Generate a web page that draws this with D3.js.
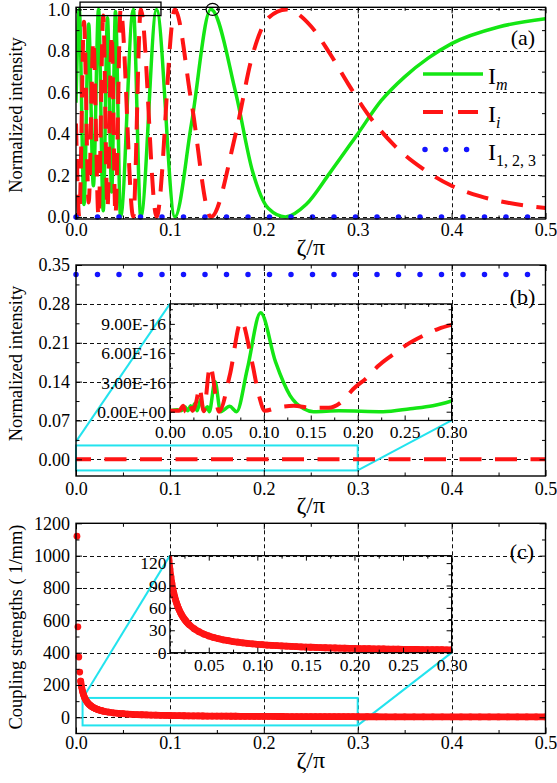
<!DOCTYPE html>
<html>
<head>
<meta charset="utf-8">
<script src="https://cdn.jsdelivr.net/npm/d3@7"></script>
<style>
  body { margin: 0; background: #fff; }
  svg { display: block; }
</style>
</head>
<body>
<svg id="fig" width="557" height="783"></svg>
<script>
// ---------------- data ----------------
const zetaTicks = [0, 0.1, 0.2, 0.3, 0.4, 0.5];
const zetaMinor = [0.05, 0.15, 0.25, 0.35, 0.45];

// (a) normalized intensity of the middle waveguide, I_m
const imZeta  = [0.000, 0.0035, 0.0085, 0.0135, 0.0185, 0.0240, 0.0290, 0.0335, 0.0380, 0.0420, 0.0475,
                 0.0610, 0.0690, 0.0858, 0.1053, 0.1230, 0.1436, 0.1700, 0.1880, 0.2050, 0.2230,
                 0.2450, 0.2700, 0.3000, 0.3250, 0.3500, 0.3750, 0.4000, 0.4500, 0.5000];
const imValue = [0.55, 1.00, 0.06, 0.93, 0.15, 1.00, 0.03, 0.96, 0.12, 0.99, 0.00,
                 1.00, 0.00, 1.00, 0.00, 0.45, 1.00, 0.60, 0.22, 0.04, 0.00,
                 0.06, 0.21, 0.40, 0.56, 0.675, 0.765, 0.835, 0.915, 0.955];

// (a) normalized intensity of the input waveguide, I_i
const iiZeta  = [0.000, 0.0035, 0.0085, 0.0135, 0.0185, 0.0240, 0.0290, 0.0335, 0.0380, 0.0420, 0.0475,
                 0.0610, 0.0690, 0.0858, 0.1053, 0.1230, 0.1436, 0.1700, 0.1880, 0.2050, 0.2240,
                 0.2500, 0.2700, 0.2900, 0.3100, 0.3400, 0.3700, 0.4000, 0.4300, 0.4600, 0.5000];
const iiValue = [0.45, 0.00, 0.94, 0.07, 0.85, 0.00, 0.97, 0.04, 0.88, 0.01, 1.00,
                 0.00, 1.00, 0.00, 1.00, 0.55, 0.00, 0.40, 0.78, 0.96, 1.00,
                 0.92, 0.79, 0.64, 0.50, 0.34, 0.23, 0.15, 0.10, 0.068, 0.043];

// outer waveguides I_1, I_2, I_3
const i123Zeta   = [0, 0.5];
const i123ValueA = [0, 0];
const i123ValueB = [0.333, 0.333];
const iiValueB   = [0, 0];

// (b) inset, intensities in units of 1e-16
const insetImZeta  = [0.000, 0.008, 0.012, 0.016, 0.019, 0.022, 0.024, 0.026, 0.029, 0.033, 0.036, 0.040, 0.042,
                      0.048, 0.054, 0.0637, 0.071, 0.0825, 0.0966, 0.1125, 0.128, 0.1425, 0.153, 0.180,
                      0.227, 0.256, 0.280, 0.300];
const insetImValue = [0.1, 0.2, 0.1, 0.5, 0.1, 0.6, 0.1, 0.8, 0.1, 1.3, 0.05, 0.5, 0.0,
                      3.1, 0.0, 0.55, 0.0, 4.4, 10.15, 5.1, 1.65, 0.3, 0.0, 0.1,
                      0.0, 0.3, 0.6, 1.1];
const insetIiZeta  = [0.000, 0.010, 0.014, 0.017, 0.021, 0.024, 0.028, 0.0315, 0.036, 0.0428, 0.0524,
                      0.0637, 0.076, 0.087, 0.095, 0.101, 0.116, 0.132, 0.150, 0.169, 0.184, 0.195,
                      0.210, 0.222, 0.236, 0.252, 0.270, 0.286, 0.300];
const insetIiValue = [0.1, 0.1, 0.6, 0.0, 0.9, 0.1, 1.0, 2.5, 0.05, 4.7, 0.0,
                      3.7, 9.3, 5.3, 1.6, 0.1, 0.45, 0.6, 0.4, 0.4, 1.1, 2.3,
                      3.5, 4.7, 5.75, 6.85, 7.8, 8.5, 8.9];

// (c) coupling strength (1/mm) against zeta/pi
const couplingZeta = [
  0.001, 0.002, 0.003, 0.004, 0.005, 0.006, 0.007, 0.008, 0.009, 0.010,
  0.011, 0.012, 0.013, 0.014, 0.015, 0.016, 0.017, 0.018, 0.019, 0.020,
  0.021, 0.022, 0.023, 0.024, 0.025, 0.026, 0.027, 0.028, 0.029, 0.030,
  0.035, 0.040, 0.045, 0.050, 0.055, 0.060, 0.065, 0.070, 0.075, 0.080,
  0.085, 0.090, 0.095, 0.100, 0.105, 0.110, 0.115, 0.120, 0.125, 0.130,
  0.135, 0.140, 0.145, 0.150, 0.155, 0.160, 0.165, 0.170, 0.175, 0.180,
  0.185, 0.190, 0.195, 0.200, 0.205, 0.210, 0.215, 0.220, 0.225, 0.230,
  0.235, 0.240, 0.245, 0.250, 0.255, 0.260, 0.265, 0.270, 0.275, 0.280,
  0.285, 0.290, 0.295, 0.300, 0.310, 0.320, 0.330, 0.340, 0.350, 0.360,
  0.370, 0.380, 0.390, 0.400, 0.410, 0.420, 0.430, 0.440, 0.450, 0.460,
  0.470, 0.480, 0.490, 0.500];
const couplingValue = [
  1120, 560, 373, 280, 224, 187, 160, 140, 124, 112,
  102, 93.3, 86.2, 80.0, 74.7, 70.0, 65.9, 62.2, 58.9, 56.0,
  53.3, 50.9, 48.7, 46.7, 44.8, 43.1, 41.5, 40.0, 38.6, 37.3,
  32.0, 28.0, 24.9, 22.4, 20.4, 18.7, 17.2, 16.0, 14.9, 14.0,
  13.2, 12.4, 11.8, 11.2, 10.7, 10.2, 9.74, 9.33, 8.96, 8.62,
  8.30, 8.00, 7.72, 7.47, 7.23, 7.00, 6.79, 6.59, 6.40, 6.22,
  6.05, 5.89, 5.74, 5.60, 5.46, 5.33, 5.21, 5.09, 4.98, 4.87,
  4.77, 4.67, 4.57, 4.48, 4.39, 4.31, 4.23, 4.15, 4.07, 4.00,
  3.93, 3.86, 3.80, 3.73, 3.61, 3.50, 3.39, 3.29, 3.20, 3.11,
  3.03, 2.95, 2.87, 2.80, 2.73, 2.67, 2.60, 2.55, 2.49, 2.43,
  2.38, 2.33, 2.29, 2.24];

// tick values
const ticksA = [0, 0.2, 0.4, 0.6, 0.8, 1.0];
const minorA = [0.1, 0.3, 0.5, 0.7, 0.9];
const ticksB = [0, 0.07, 0.14, 0.21, 0.28, 0.35];
const minorB = [0.035, 0.105, 0.175, 0.245, 0.315];
const ticksC = [0, 200, 400, 600, 800, 1000, 1200];
const minorC = [100, 300, 500, 700, 900, 1100];
const insetBTicksX = [0, 0.05, 0.10, 0.15, 0.20, 0.25, 0.30];
const insetBMinorX = [0.025, 0.075, 0.125, 0.175, 0.225, 0.275];
const insetBTicksY = [0, 3, 6, 9];
const insetBMinorY = [1.5, 4.5, 7.5, 10.5];
const insetCTicksX = [0.05, 0.10, 0.15, 0.20, 0.25, 0.30];
const insetCMinorX = [0.025, 0.075, 0.125, 0.175, 0.225, 0.275];
const insetCTicksY = [0, 30, 60, 90, 120];
const insetCMinorY = [15, 45, 75, 105];

// ---------------- styling ----------------
const FONT = '"Liberation Serif", "Times New Roman", serif';
const GREEN = "#14e614", RED = "#ff1414", BLUE = "#1414ff", CYAN = "#22e3ee";
const RED_DASH = "22,13.5";

const svg = d3.select("#fig");

// shared horizontal scale of the three panels
const x = d3.scaleLinear().domain([0, 0.5]).range([76, 545.5]);
const yA = d3.scaleLinear().domain([-0.01, 1.01]).range([219, 7.3]);
const yB = d3.scaleLinear().domain([-0.03, 0.35]).range([476, 265]);
const yC = d3.scaleLinear().domain([-100, 1200]).range([733.5, 523.3]);

// insets
const xIB = d3.scaleLinear().domain([0, 0.3]).range([x(0.1), x(0.4)]);
const yIB = d3.scaleLinear().domain([-0.9, 11.05]).range([yB(0.07), yB(0.28)]);
const xIC = d3.scaleLinear().domain([0.01, 0.30]).range([x(0.1), x(0.4)]);
const yIC = d3.scaleLinear().domain([0, 130]).range([yC(400), yC(1000)]);

let clipId = 0;
function clipRect(xs, ys, padL = 0) {
  const id = "clip" + (clipId++);
  svg.append("clipPath").attr("id", id).append("rect")
    .attr("x", xs.range()[0] - padL).attr("y", ys.range()[1])
    .attr("width", xs.range()[1] - xs.range()[0] + padL)
    .attr("height", ys.range()[0] - ys.range()[1]);
  return `url(#${id})`;
}

function grid(g, xs, ys, gx, gy) {
  const [l, r] = xs.range(), [b, t] = ys.range();
  const dash = g.append("g").attr("stroke", "#111").attr("stroke-width", 1).attr("stroke-dasharray", "4,3");
  dash.selectAll(null).data(gx).join("line")
    .attr("x1", d => Math.round(xs(d)) + 0.5).attr("x2", d => Math.round(xs(d)) + 0.5)
    .attr("y1", t).attr("y2", b);
  dash.selectAll(null).data(gy).join("line")
    .attr("y1", d => Math.round(ys(d)) + 0.5).attr("y2", d => Math.round(ys(d)) + 0.5)
    .attr("x1", l).attr("x2", r);
}

function axes(g, xs, ys, o) {
  const [l, r] = xs.range(), [b, t] = ys.range();
  function side(gen, tr, vals, size, fmt, pad) {
    const a = g.append("g").attr("transform", tr)
      .call(gen.tickValues(vals).tickSizeInner(size).tickSizeOuter(0)
        .tickPadding(pad || 0).tickFormat(fmt || (() => "")));
    a.select(".domain").remove();
    a.attr("font-family", FONT).attr("font-size", o.fs);
    a.selectAll(".tick line").attr("stroke", "#000").attr("stroke-width", 1);
    a.selectAll(".tick text").attr("fill", "#000");
  }
  side(d3.axisBottom(xs), `translate(0,${b})`, o.xMajor, -o.major, o.xFmt, o.xPad);
  side(d3.axisBottom(xs), `translate(0,${b})`, o.xMinor, -o.minor);
  side(d3.axisTop(xs), `translate(0,${t})`, o.xMajor, -o.major);
  side(d3.axisTop(xs), `translate(0,${t})`, o.xMinor, -o.minor);
  side(d3.axisLeft(ys), `translate(${l},0)`, o.yMajor, -o.major, o.yFmt, o.yPad);
  side(d3.axisLeft(ys), `translate(${l},0)`, o.yMinor, -o.minor);
  side(d3.axisRight(ys), `translate(${r},0)`, o.yMajor, -o.major);
  side(d3.axisRight(ys), `translate(${r},0)`, o.yMinor, -o.minor);
  g.append("rect").attr("x", l).attr("y", t).attr("width", r - l).attr("height", b - t)
    .attr("fill", "none").attr("stroke", "#000").attr("stroke-width", o.frame || 1.4);
}

function curve(g, xs, ys, xv, yv, style, clip, curveType) {
  const line = d3.line().x(d => xs(d[0])).y(d => ys(d[1])).curve(curveType || d3.curveMonotoneX);
  const p = g.append("path").datum(d3.zip(xv, yv)).attr("d", line).attr("fill", "none");
  if (clip) p.attr("clip-path", clip);
  Object.entries(style).forEach(([k, v]) => p.attr(k, v));
  return p;
}
const greenStyle = { stroke: GREEN, "stroke-width": 3.5, "stroke-linejoin": "round" };
const redStyle = { stroke: RED, "stroke-width": 4, "stroke-dasharray": RED_DASH };
const blueStyle = { stroke: BLUE, "stroke-width": 5.5, "stroke-linecap": "round", "stroke-dasharray": "0,21.5" };

function yTitle(text, cy) {
  svg.append("text").attr("transform", `translate(22,${cy}) rotate(-90)`)
    .attr("text-anchor", "middle").attr("font-family", FONT).attr("font-size", 18.5).text(text);
}
function xTitle(base) {
  svg.append("text").attr("x", x(0.25)).attr("y", base).attr("text-anchor", "middle")
    .attr("font-family", FONT).attr("font-size", 24).text("ζ/π");
}
function tag(text, px, base) {
  svg.append("text").attr("x", px).attr("y", base).attr("text-anchor", "middle")
    .attr("font-family", FONT).attr("font-size", 22).text(text);
}

const mainOpt = { fs: 18, major: 6, minor: 3.5, xMajor: zetaTicks, xMinor: zetaMinor,
                  xFmt: d3.format(".1f"), yPad: 6 };

// ---------------- panel (a) ----------------
{
  const g = svg.append("g");
  grid(g, x, yA, [0.1, 0.2, 0.3, 0.4], ticksA);
  const clip = clipRect(x, yA);
  curve(g, x, yA, imZeta, imValue, greenStyle, clip);
  curve(g, x, yA, iiZeta, iiValue, redStyle, clip);
  curve(g, x, yA, i123Zeta, i123ValueA, blueStyle, null, d3.curveLinear);
  axes(g, x, yA, { ...mainOpt, xPad: 4, yMajor: ticksA, yMinor: minorA, yFmt: d3.format(".1f") });

  // highlighted regions where I_m reaches unity
  g.append("rect").attr("x", x(0.0043)).attr("y", yA(1.035))
    .attr("width", x(0.0905) - x(0.0043)).attr("height", yA(0.97) - yA(1.035))
    .attr("fill", "none").attr("stroke", "#000").attr("stroke-width", 1.3);
  g.append("ellipse").attr("cx", x(0.1455)).attr("cy", yA(1.0)).attr("rx", 6.5).attr("ry", 6)
    .attr("fill", "none").attr("stroke", "#000").attr("stroke-width", 1.2);

  // legend
  const lg = g.append("g");
  lg.append("line").attr("x1", 423).attr("x2", 483).attr("y1", 74).attr("y2", 74)
    .attr("stroke", GREEN).attr("stroke-width", 3.5);
  lg.append("line").attr("x1", 423).attr("x2", 480).attr("y1", 112).attr("y2", 112)
    .attr("stroke", RED).attr("stroke-width", 4).attr("stroke-dasharray", "20,15");
  lg.append("line").attr("x1", 425).attr("x2", 470).attr("y1", 149.5).attr("y2", 149.5)
    .attr("stroke", BLUE).attr("stroke-width", 5.5).attr("stroke-linecap", "round")
    .attr("stroke-dasharray", "0,20.8");
  const entries = [
    { y: 83.5, sub: "m", italic: true },
    { y: 121.5, sub: "i", italic: true },
    { y: 159.5, sub: "1, 2, 3", italic: false }
  ];
  entries.forEach(e => {
    const t = lg.append("text").attr("x", 488).attr("y", e.y)
      .attr("font-family", FONT).attr("font-size", 24);
    t.append("tspan").text("I");
    t.append("tspan").attr("dy", 6).attr("font-size", 16)
      .attr("font-style", e.italic ? "italic" : "normal").text(e.sub);
  });
  tag("(a)", 523, 45);
}
yTitle("Normalized intensity", 115);
xTitle(255);

// ---------------- panel (b) ----------------
{
  const g = svg.append("g");
  grid(g, x, yB, [0.1, 0.2, 0.3, 0.4], ticksB.slice(0, 5));
  const clip = clipRect(x, yB);

  // zoom box and guide lines
  const cy = g.append("g").attr("stroke", CYAN).attr("stroke-width", 2).attr("fill", "none");
  cy.append("rect").attr("x", x(0)).attr("y", yB(0.025))
    .attr("width", x(0.3) - x(0)).attr("height", yB(-0.02) - yB(0.025));
  cy.append("line").attr("x1", x(0)).attr("y1", yB(0.032)).attr("x2", x(0.1)).attr("y2", yB(0.28));
  cy.append("line").attr("x1", x(0.3)).attr("y1", yB(-0.02)).attr("x2", x(0.4)).attr("y2", yB(0.07));

  curve(g, x, yB, i123Zeta, iiValueB, { ...redStyle, "stroke-dashoffset": 7 }, clip, d3.curveLinear);
  curve(g, x, yB, i123Zeta, i123ValueB, blueStyle, null, d3.curveLinear);
  axes(g, x, yB, { ...mainOpt, xPad: 6, yMajor: ticksB, yMinor: minorB, yFmt: d3.format(".2f") });
  tag("(b)", 522.5, 304);

  // inset: I_m and I_i on the 1e-16 scale
  const ig = svg.append("g");
  const iclip = clipRect(xIB, yIB);
  curve(ig, xIB, yIB, insetImZeta, insetImValue, greenStyle, iclip);
  curve(ig, xIB, yIB, insetIiZeta, insetIiValue, redStyle, iclip);
  const sciFmt = v => v === 0 ? "0.00E+00" : `${d3.format(".2f")(v)}E-16`;
  axes(ig, xIB, yIB, { fs: 17.5, major: 5, minor: 3, frame: 1.2,
    xMajor: insetBTicksX, xMinor: insetBMinorX, xFmt: d3.format(".2f"), xPad: 5,
    yMajor: insetBTicksY, yMinor: insetBMinorY, yFmt: sciFmt, yPad: 4 });
}
yTitle("Normalized intensity", 363.5);
xTitle(513);

// ---------------- panel (c) ----------------
{
  const g = svg.append("g");
  grid(g, x, yC, [0.1, 0.2, 0.3, 0.4], ticksC.slice(0, 6));
  const clip = clipRect(x, yC, 5);

  const cy = g.append("g").attr("stroke", CYAN).attr("stroke-width", 2).attr("fill", "none");
  cy.append("rect").attr("x", x(0.007)).attr("y", yC(120))
    .attr("width", x(0.3) - x(0.007)).attr("height", yC(-50) - yC(120));
  cy.append("line").attr("x1", x(0.009)).attr("y1", yC(135)).attr("x2", x(0.1)).attr("y2", yC(1000));
  cy.append("line").attr("x1", x(0.3)).attr("y1", yC(-50)).attr("x2", x(0.4)).attr("y2", yC(400));

  const pts = d3.zip(couplingZeta, couplingValue);
  const band = pts.filter(d => d[0] >= 0.005);
  const dots = (grp, xs, ys, clipUrl) => {
    grp.append("path").datum(band)
      .attr("d", d3.line().x(d => xs(d[0])).y(d => ys(d[1])))
      .attr("fill", "none").attr("stroke", RED).attr("stroke-width", 6.8)
      .attr("stroke-linecap", "round").attr("stroke-linejoin", "round").attr("clip-path", clipUrl);
    grp.append("g").attr("clip-path", clipUrl).selectAll("circle").data(pts).join("circle")
      .attr("cx", d => xs(d[0])).attr("cy", d => ys(d[1])).attr("r", 3.4).attr("fill", RED);
  };
  dots(g, x, yC, clip);
  axes(g, x, yC, { ...mainOpt, xPad: 3, yMajor: ticksC, yMinor: minorC, yFmt: d3.format("d") });
  tag("(c)", 522, 559);

  // inset: the same coupling strengths on a finer scale
  const ig = svg.append("g");
  const iclip = clipRect(xIC, yIC);
  dots(ig, xIC, yIC, iclip);
  axes(ig, xIC, yIC, { fs: 17.5, major: 5, minor: 3, frame: 1.2,
    xMajor: insetCTicksX, xMinor: insetCMinorX, xFmt: d3.format(".2f"), xPad: 6,
    yMajor: insetCTicksY, yMinor: insetCMinorY, yFmt: d3.format("d"), yPad: 3.5 });
}
yTitle("Coupling strengths ( 1/mm)", 627);
xTitle(768);
</script>
</body>
</html>
